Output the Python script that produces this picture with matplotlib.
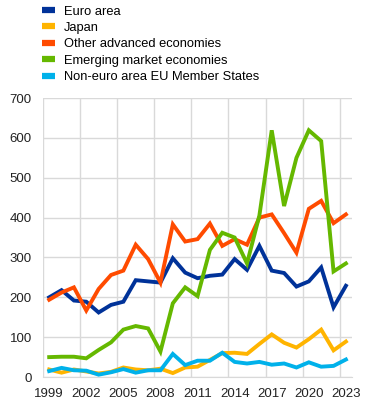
"""Recreation: foreign holdings by region, 1999-2023 (ECB-style line chart)."""

import matplotlib

matplotlib.use("Agg")
import matplotlib.pyplot as plt
from matplotlib.lines import Line2D
from matplotlib.ticker import FixedLocator

plt.rcParams["font.family"] = ["Liberation Sans", "DejaVu Sans"]

YEARS = list(range(1999, 2024))

EURO_AREA = [200, 218, 192, 189, 162, 181, 189, 243, 240, 237, 298, 262, 248,
             254, 257, 296, 269, 329, 267, 261, 227, 240, 275, 175, 229]
JAPAN = [19, 11, 19, 14, 9, 13, 24, 19, 17, 21, 10, 24, 26,
         43, 60, 61, 58, 83, 107, 86, 74, 95, 119, 67, 89]
OTHER_ADVANCED = [194, 212, 225, 167, 221, 256, 267, 332, 296, 237, 383, 340, 346,
                  385, 329, 346, 332, 400, 408, 361, 312, 422, 442, 386, 408]
EMERGING = [50, 51, 51, 47, 68, 87, 119, 128, 122, 64, 185, 225, 203,
            319, 362, 350, 285, 405, 619, 429, 550, 619, 592, 265, 285]
NON_EURO_EU = [15, 23, 17, 16, 6, 12, 20, 11, 17, 17, 58, 30, 41,
               41, 61, 38, 34, 38, 31, 34, 24, 37, 26, 28, 44]

LABELS = [
    "Euro area",
    "Japan",
    "Other advanced economies",
    "Emerging market economies",
    "Non-euro area EU Member States",
]
COLORS = ["#003299", "#ffb400", "#ff4b00", "#65b800", "#00b1ea"]

fig = plt.figure(figsize=(3.66, 4.05), dpi=100)
ax = fig.add_axes([0.1175, 0.069, 0.8445, 0.689])

series = [EURO_AREA, JAPAN, OTHER_ADVANCED, EMERGING, NON_EURO_EU]
for values, color in zip(series, COLORS):
    ax.plot(YEARS, values, color=color, linewidth=2.8, solid_joinstyle="miter")

ax.set_xlim(1998.5, 2023.5)
ax.set_ylim(0, 700)
ax.set_xticks(YEARS[::3])
ax.xaxis.set_minor_locator(FixedLocator([y - 0.5 for y in YEARS[::3]]))
ax.set_yticks(range(0, 701, 100))

ax.grid(axis="y", which="major", color="#d9d9d9", linewidth=1.0)
ax.grid(axis="x", which="minor", color="#d9d9d9", linewidth=1.0)
ax.set_axisbelow(True)
for side in ("top", "right", "left"):
    ax.spines[side].set_visible(False)
ax.spines["bottom"].set_color("#d9d9d9")
ax.tick_params(axis="both", which="both", length=0, labelsize=9.5,
               colors="#222222")
ax.tick_params(axis="y", pad=8)
ax.tick_params(axis="x", pad=8)

handles = [Line2D([0], [0], color=c, linewidth=4.5, solid_capstyle="butt")
           for c in COLORS]
fig.legend(handles, LABELS, loc="upper left", bbox_to_anchor=(0.105, 0.996),
           frameon=False, fontsize=9.3, handlelength=0.95, handletextpad=0.75,
           labelspacing=0.34, borderpad=0.3, borderaxespad=0)

fig.savefig("out.png", dpi=100)
